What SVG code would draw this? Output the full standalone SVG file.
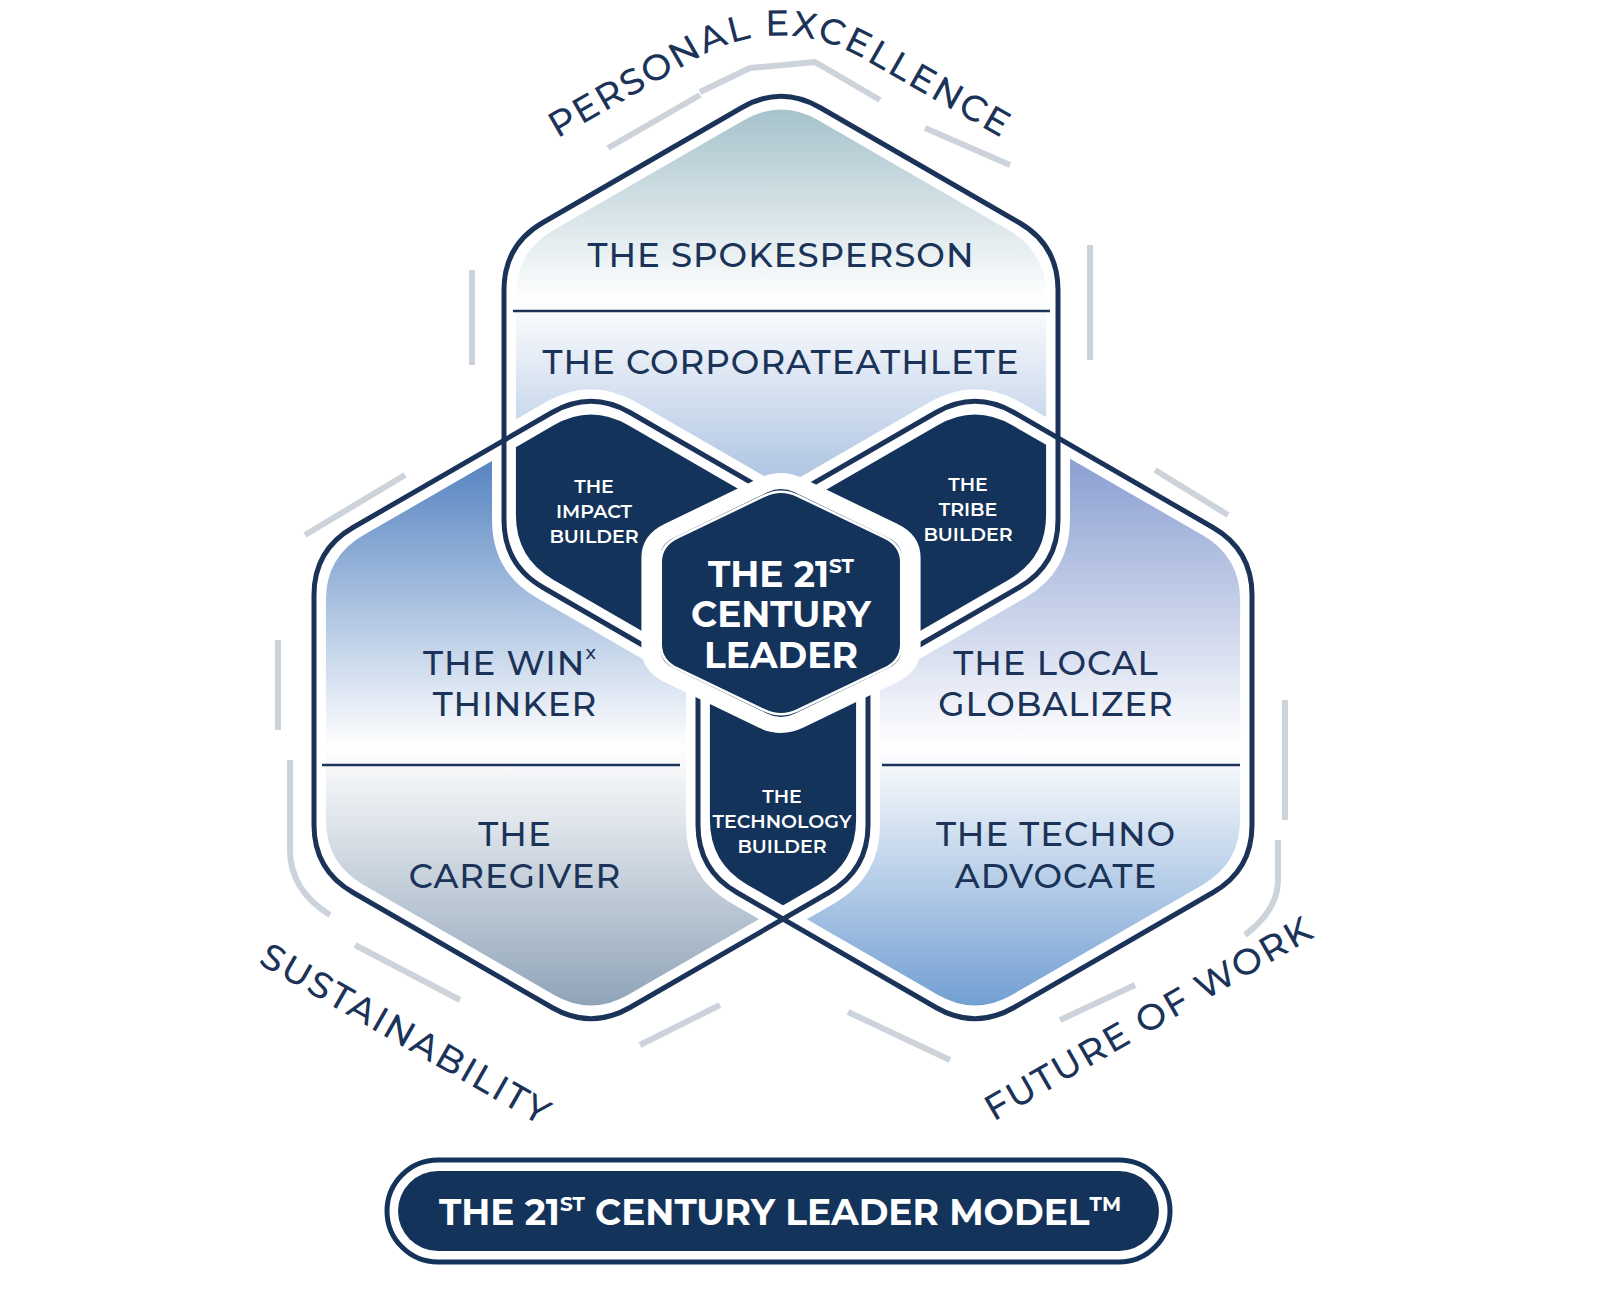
<svg xmlns="http://www.w3.org/2000/svg" width="1599" height="1292" viewBox="0 0 1599 1292">
<style>
.lbl{font-family:Montserrat,"Noto Sans","Liberation Sans",sans-serif;fill:#1b3358;text-anchor:middle;font-size:34px;font-weight:500;letter-spacing:1px}
.sm{font-family:Montserrat,"Noto Sans","Liberation Sans",sans-serif;fill:#fff;text-anchor:middle;font-size:19px;font-weight:600}
.big{font-family:Montserrat,"Noto Sans","Liberation Sans",sans-serif;fill:#fff;text-anchor:middle;font-size:36px;font-weight:700}
.arc{font-family:Montserrat,"Noto Sans","Liberation Sans",sans-serif;fill:#1b3358;font-size:36px;font-weight:500;letter-spacing:2px}
.ol{fill:none;stroke:#1b3358;stroke-width:5}
.dv{stroke:#1b3358;stroke-width:2.5}
.gr{fill:none;stroke:#cdd3da;stroke-width:6}
</style>
<defs>
<path id="hx" d="M-39,-297.5 Q0,-320 39,-297.5 L238,-182.5 Q277,-160 277,-115 L277,115 Q277,160 238,182.5 L39,297.5 Q0,320 -39,297.5 L-238,182.5 Q-277,160 -277,115 L-277,-115 Q-277,-160 -238,-182.5 Z"/>
<linearGradient id="gT" gradientUnits="userSpaceOnUse" x1="0" y1="90" x2="0" y2="470"><stop offset="0" stop-color="#9dbcc6"/><stop offset="0.55" stop-color="#ffffff"/><stop offset="1" stop-color="#b3c8e4"/></linearGradient>
<linearGradient id="gL" gradientUnits="userSpaceOnUse" x1="0" y1="470" x2="0" y2="1025"><stop offset="0" stop-color="#5b88c3"/><stop offset="0.5" stop-color="#ffffff"/><stop offset="1" stop-color="#879db3"/></linearGradient>
<linearGradient id="gR" gradientUnits="userSpaceOnUse" x1="0" y1="470" x2="0" y2="1025"><stop offset="0" stop-color="#8ea2d3"/><stop offset="0.5" stop-color="#ffffff"/><stop offset="1" stop-color="#6898cf"/></linearGradient>
<mask id="mT" maskUnits="userSpaceOnUse" x="0" y="0" width="1599" height="1292"><rect width="1599" height="1292" fill="#fff"/><use href="#hx" transform="translate(591,710)" fill="#000" stroke="#000" stroke-width="24"/><use href="#hx" transform="translate(975,710)" fill="#000" stroke="#000" stroke-width="24"/></mask>
<mask id="mL" maskUnits="userSpaceOnUse" x="0" y="0" width="1599" height="1292"><rect width="1599" height="1292" fill="#fff"/><use href="#hx" transform="translate(781,405)" fill="#000" stroke="#000" stroke-width="24"/><use href="#hx" transform="translate(975,710)" fill="#000" stroke="#000" stroke-width="24"/></mask>
<mask id="mR" maskUnits="userSpaceOnUse" x="0" y="0" width="1599" height="1292"><rect width="1599" height="1292" fill="#fff"/><use href="#hx" transform="translate(781,405)" fill="#000" stroke="#000" stroke-width="24"/><use href="#hx" transform="translate(591,710)" fill="#000" stroke="#000" stroke-width="24"/></mask>
<mask id="nT" maskUnits="userSpaceOnUse" x="0" y="0" width="1599" height="1292"><rect width="1599" height="1292" fill="#fff"/><use href="#hx" transform="translate(781,405)" fill="#000" stroke="#000" stroke-width="24"/></mask>
<mask id="nL" maskUnits="userSpaceOnUse" x="0" y="0" width="1599" height="1292"><rect width="1599" height="1292" fill="#fff"/><use href="#hx" transform="translate(591,710)" fill="#000" stroke="#000" stroke-width="24"/></mask>
<mask id="nR" maskUnits="userSpaceOnUse" x="0" y="0" width="1599" height="1292"><rect width="1599" height="1292" fill="#fff"/><use href="#hx" transform="translate(975,710)" fill="#000" stroke="#000" stroke-width="24"/></mask>
<clipPath id="cT"><use href="#hx" transform="translate(781,405) scale(0.957)"/></clipPath>
<clipPath id="cL"><use href="#hx" transform="translate(591,710) scale(0.957)"/></clipPath>
<clipPath id="cR"><use href="#hx" transform="translate(975,710) scale(0.957)"/></clipPath>
<path id="pTop" d="M555,140 L700,57 Q780,14 860,57 L1005,140"/>
<path id="pSus" d="M255,962 L545,1128"/>
<path id="pFut" d="M990,1124 L1320,934"/>
</defs>
<rect width="1599" height="1292" fill="#fff"/>
<g id="decor">
<polyline class="gr" points="608,148 700,95"/>
<polyline class="gr" points="700,92 750,68 815,62 880,100" stroke-width="9"/>
<polyline class="gr" points="925,128 1010,165"/>
<polyline class="gr" points="472,270 472,365"/>
<polyline class="gr" points="1090,245 1090,360"/>
<polyline class="gr" points="305,535 405,475"/>
<polyline class="gr" points="1155,470 1228,515" stroke-width="9"/>
<polyline class="gr" points="278,640 278,730"/>
<path class="gr" d="M290,760 L290,850 Q290,890 330,915" stroke-width="12"/>
<polyline class="gr" points="355,945 460,1000"/>
<polyline class="gr" points="640,1045 720,1005"/>
<polyline class="gr" points="848,1012 950,1060"/>
<polyline class="gr" points="1060,1020 1135,985" stroke-width="9"/>
<polyline class="gr" points="1285,700 1285,820"/>
<path class="gr" d="M1278,840 L1278,880 Q1278,910 1245,935" stroke-width="12"/>
</g>
<g id="hex-top" mask="url(#mT)"><rect width="1599" height="1292" fill="url(#gT)" clip-path="url(#cT)"/></g>
<g id="hex-left" mask="url(#mL)"><rect width="1599" height="1292" fill="url(#gL)" clip-path="url(#cL)"/></g>
<g id="hex-right" mask="url(#mR)"><rect width="1599" height="1292" fill="url(#gR)" clip-path="url(#cR)"/></g>
<g id="impact-builder" mask="url(#nR)"><g clip-path="url(#cT)"><use href="#hx" transform="translate(591,710) scale(0.957)" fill="#14335a"/></g></g>
<g id="tribe-builder" mask="url(#nL)"><g clip-path="url(#cT)"><use href="#hx" transform="translate(975,710) scale(0.957)" fill="#14335a"/></g></g>
<g id="technology-builder" mask="url(#nT)"><g clip-path="url(#cL)"><use href="#hx" transform="translate(975,710) scale(0.957)" fill="#14335a"/></g></g>
<g id="connectors">
<use href="#hx" class="ol" transform="translate(781,405)"/>
<use href="#hx" class="ol" transform="translate(591,710)"/>
<use href="#hx" class="ol" transform="translate(975,710)"/>
<line class="dv" x1="513" y1="311" x2="1050" y2="311"/>
<line class="dv" x1="322" y1="765" x2="680" y2="765"/>
<line class="dv" x1="882" y1="765" x2="1240" y2="765"/>
</g>
<g id="center">
<use href="#hx" transform="translate(781,603) scale(0.47,0.395)" fill="#14335a" stroke="#fff" stroke-width="40"/>
<use href="#hx" transform="translate(781,603) scale(0.435,0.36)" fill="none" stroke="#fff" stroke-width="7"/>
<text class="big" x="781" y="587">THE 21<tspan font-size="20" dy="-14">ST</tspan></text>
<text class="big" x="781" y="627">CENTURY</text>
<text class="big" x="781" y="668">LEADER</text>
</g>
<g id="labels">
<text class="lbl" x="781" y="267">THE SPOKESPERSON</text>
<text class="lbl" x="781" y="374">THE CORPORATEATHLETE</text>
<text class="lbl" x="510" y="675">THE WIN<tspan font-size="19" dy="-16">x</tspan></text>
<text class="lbl" x="515" y="716">THINKER</text>
<text class="lbl" x="1056" y="675">THE LOCAL</text>
<text class="lbl" x="1056" y="716">GLOBALIZER</text>
<text class="lbl" x="515" y="846">THE</text>
<text class="lbl" x="515" y="888">CAREGIVER</text>
<text class="lbl" x="1056" y="846">THE TECHNO</text>
<text class="lbl" x="1056" y="888">ADVOCATE</text>
<text class="sm" x="594" y="493">THE</text>
<text class="sm" x="594" y="518">IMPACT</text>
<text class="sm" x="594" y="543">BUILDER</text>
<text class="sm" x="968" y="491">THE</text>
<text class="sm" x="968" y="516">TRIBE</text>
<text class="sm" x="968" y="541">BUILDER</text>
<text class="sm" x="782" y="803">THE</text>
<text class="sm" x="782" y="828">TECHNOLOGY</text>
<text class="sm" x="782" y="853">BUILDER</text>
<text class="arc" text-anchor="middle"><textPath href="#pTop" startOffset="50%">PERSONAL EXCELLENCE</textPath></text>
<text class="arc" text-anchor="middle"><textPath href="#pSus" startOffset="50%">SUSTAINABILITY</textPath></text>
<text class="arc" text-anchor="middle"><textPath href="#pFut" startOffset="50%">FUTURE OF WORK</textPath></text>
</g>
<g id="banner">
<rect x="387" y="1160" width="783" height="102" rx="51" fill="#fff" stroke="#14335a" stroke-width="5"/>
<rect x="398" y="1171" width="761" height="80" rx="40" fill="#14335a"/>
<text class="big" x="780" y="1225" font-size="35">THE 21<tspan font-size="20" dy="-14">ST</tspan><tspan dy="14"> CENTURY LEADER MODEL</tspan><tspan font-size="20" dy="-14">TM</tspan></text>
</g>
</svg>
